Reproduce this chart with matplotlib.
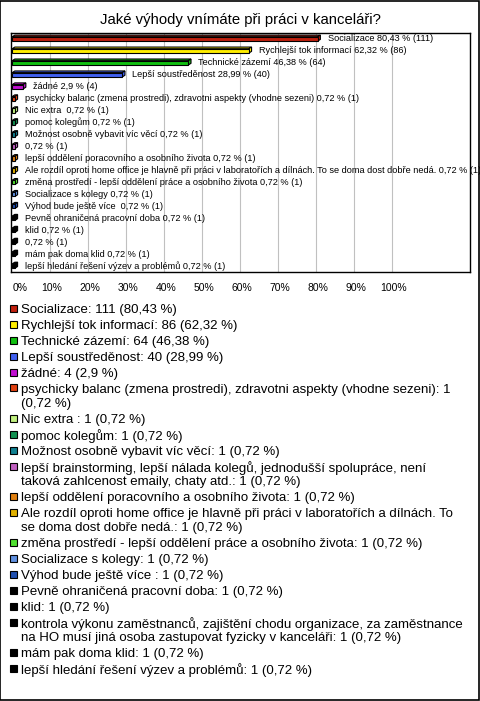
import matplotlib
matplotlib.use("Agg")
import matplotlib.pyplot as plt
from matplotlib.patches import Rectangle, Polygon
import matplotlib.transforms as mtransforms

plt.rcParams['font.family'] = ['Liberation Sans', 'DejaVu Sans']

title = "Jaké výhody vnímáte při práci v kanceláři?"

answers = [
    "Socializace", "Rychlejší tok informací", "Technické zázemí", "Lepší soustředěnost",
    "žádné", "psychicky balanc (zmena prostredi), zdravotni aspekty (vhodne sezeni)",
    "Nic extra ", "pomoc kolegům", "Možnost osobně vybavit víc věcí",
    "lepší brainstorming, lepší nálada kolegů, jednodušší spolupráce, není\ntaková zahlcenost emaily, chaty atd.",
    "lepší oddělení poracovního a osobního života",
    "Ale rozdíl oproti home office je hlavně při práci v laboratořích a dílnách. To\nse doma dost dobře nedá.",
    "změna prostředí - lepší oddělení práce a osobního života",
    "Socializace s kolegy", "Výhod bude ještě více ", "Pevně ohraničená pracovní doba",
    "klid",
    "kontrola výkonu zaměstnanců, zajištění chodu organizace, za zaměstnance\nna HO musí jiná osoba zastupovat fyzicky v kanceláři",
    "mám pak doma klid", "lepší hledání řešení výzev a problémů",
]
# labels shown next to bars (long ones are blank in the original)
bar_names = [
    "Socializace", "Rychlejší tok informací", "Technické zázemí", "Lepší soustředěnost",
    "žádné", "psychicky balanc (zmena prostredi), zdravotni aspekty (vhodne sezeni)",
    "Nic extra ", "pomoc kolegům", "Možnost osobně vybavit víc věcí", "",
    "lepší oddělení poracovního a osobního života",
    "Ale rozdíl oproti home office je hlavně při práci v laboratořích a dílnách. To se doma dost dobře nedá.",
    "změna prostředí - lepší oddělení práce a osobního života",
    "Socializace s kolegy", "Výhod bude ještě více ", "Pevně ohraničená pracovní doba",
    "klid", "", "mám pak doma klid", "lepší hledání řešení výzev a problémů",
]
counts = [111, 86, 64, 40, 4] + [1] * 15
percents = ["80,43", "62,32", "46,38", "28,99", "2,9"] + ["0,72"] * 15
colors = ["#C0200E", "#FFEE00", "#10C010", "#4060F0", "#C010D0", "#E04010",
          "#C0F080", "#109050", "#108090", "#C060C0", "#E08010", "#E0B000",
          "#50E030", "#6090E0", "#2050B0"] + ["#000000"] * 5
ticks = list(range(0, 101, 10))
total = 138

fig = plt.figure(figsize=(4.8, 7.01), dpi=100)
fig.patches.append(Rectangle((0.001, 0.001), 0.997, 0.997, transform=fig.transFigure,
                             fill=False, edgecolor="black", linewidth=1.2))
fig.text(0.5, 1 - 20 / 701, title, ha="center", va="center", fontsize=10.7)

ax = fig.add_axes([0.023, 0.612, 0.956, 0.341])
n = len(counts)
ax.set_xlim(-0.3, 120.5)
ax.set_ylim(n - 0.5, -0.5)
for t in ticks[1:]:
    ax.axvline(t, color="#C0C0C0", linewidth=0.8, zorder=0)

dx, dy, h = 0.7, 0.14, 0.36
for i, (c, col) in enumerate(zip(counts, colors)):
    v = c / total * 100
    # depth faces
    top = Polygon([(0, i - h / 2), (dx, i - h / 2 - dy), (v + dx, i - h / 2 - dy), (v, i - h / 2)],
                  closed=True, facecolor=col, edgecolor="black", linewidth=0.8, zorder=2)
    side = Polygon([(v, i - h / 2), (v + dx, i - h / 2 - dy), (v + dx, i + h / 2 - dy), (v, i + h / 2)],
                   closed=True, facecolor=col, edgecolor="black", linewidth=0.8, zorder=2)
    ax.add_patch(top)
    ax.add_patch(side)
    ax.barh(i, v, height=h, color=col, edgecolor="black", linewidth=0.8, zorder=3)
    lab = (bar_names[i] + " " if bar_names[i] else "") + f"{percents[i]} % ({c})"
    ax.text(v + 2.6, i, lab, va="center", ha="left", fontsize=6.6, zorder=4)

ax.set_xticks(ticks)
ax.set_xticklabels([f"{t}%" for t in ticks], fontsize=7.5)
ax.tick_params(axis="x", length=0, pad=8)
shift = mtransforms.ScaledTranslation(1.5 / 100, 0, fig.dpi_scale_trans)
for k, lbl in enumerate(ax.get_xticklabels()):
    if k == 0:
        lbl.set_ha("left")
    else:
        lbl.set_transform(lbl.get_transform() + shift)
ax.set_yticks([])
for s in ax.spines.values():
    s.set_linewidth(1.0)

# legend below the chart
H = 701.0
y = 310.0
for name, c, p, col in zip(answers, counts, percents, colors):
    full = f"{name}: {c} ({p} %)"
    if name.startswith("psychicky"):
        full = f"{name}: {c}\n({p} %)"
    lines = full.split("\n")
    fig.patches.append(Rectangle((10 / 480, 1 - (y + 1.5) / H), 7 / 480, 7 / H,
                                 transform=fig.transFigure, facecolor=col,
                                 edgecolor="black", linewidth=0.8))
    for j, ln in enumerate(lines):
        fig.text(21 / 480, 1 - (y + j * 14) / H, ln, ha="left", va="center", fontsize=9.5)
    y += 16 + (len(lines) - 1) * 14

fig.savefig("out.png", dpi=100)
